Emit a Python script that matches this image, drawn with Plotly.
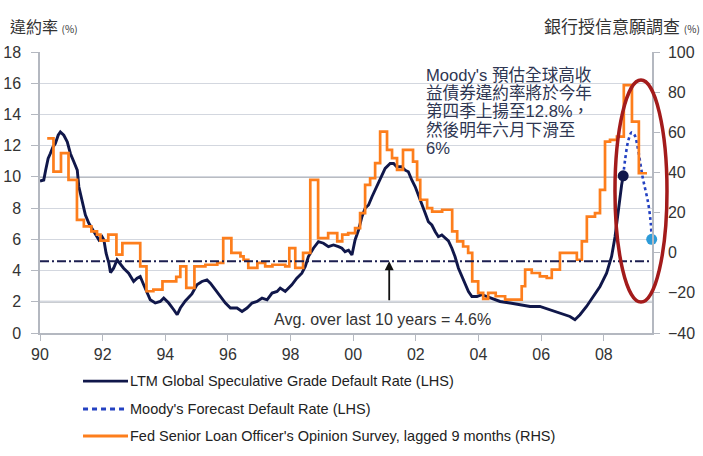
import plotly.graph_objects as go

# ---------------- data ----------------
# LTM Global Speculative Grade Default Rate (LHS, %)
navy_x = [1990.0, 1990.12, 1990.18, 1990.26, 1990.33, 1990.41, 1990.49, 1990.58, 1990.65, 1990.76,
          1990.87, 1990.97, 1991.08, 1991.19, 1991.24, 1991.32, 1991.40, 1991.45, 1991.56, 1991.66,
          1991.77, 1991.88, 1991.98, 1992.04, 1992.11, 1992.20, 1992.25, 1992.35, 1992.46, 1992.57,
          1992.67, 1992.83, 1992.99, 1993.10, 1993.20, 1993.31, 1993.42, 1993.52, 1993.68, 1993.84,
          1993.95, 1994.11, 1994.27, 1994.38, 1994.48, 1994.64, 1994.85, 1995.01, 1995.17, 1995.33,
          1995.44, 1995.60, 1995.76, 1995.92, 1996.08, 1996.29, 1996.45, 1996.61, 1996.77, 1996.93,
          1997.09, 1997.25, 1997.41, 1997.57, 1997.67, 1997.83, 1998.04, 1998.20, 1998.36, 1998.47,
          1998.57, 1998.73, 1998.89, 1999.05, 1999.21, 1999.37, 1999.53, 1999.64, 1999.74, 1999.85,
          1999.96, 2000.06, 2000.17, 2000.28, 2000.38, 2000.49, 2000.60, 2000.70, 2000.86, 2001.02,
          2001.18, 2001.29, 2001.39, 2001.55, 2001.66, 2001.76, 2001.87, 2001.98, 2002.08, 2002.19,
          2002.30, 2002.40, 2002.51, 2002.62, 2002.72, 2002.83, 2002.93, 2003.04, 2003.15, 2003.25,
          2003.36, 2003.47, 2003.57, 2003.68, 2003.79, 2003.95, 2004.11, 2004.26, 2004.42, 2004.69,
          2005.01, 2005.33, 2005.65, 2005.96, 2006.28, 2006.60, 2006.92, 2007.08, 2007.24, 2007.45,
          2007.67, 2007.88, 2008.09, 2008.25, 2008.36, 2008.43, 2008.49, 2008.57, 2008.62]
navy_y = [9.73, 9.80, 10.43, 11.18, 11.50, 11.90, 12.14, 12.67, 12.88, 12.67,
          12.25, 11.50, 10.97, 10.43, 9.37, 8.73, 8.09, 7.56, 7.03, 6.71,
          6.28, 5.96, 6.17, 5.96, 5.11, 4.47, 3.87, 4.15, 4.68, 4.36,
          4.15, 3.83, 3.30, 3.51, 3.62, 3.09, 2.56, 2.13, 1.92, 2.02,
          2.24, 1.92, 1.49, 1.17, 1.60, 2.05, 2.50, 3.09, 3.30, 3.40,
          3.19, 2.77, 2.30, 1.92, 1.60, 1.60, 1.38, 1.60, 1.92, 2.02,
          2.24, 2.13, 2.56, 2.66, 2.88, 2.66, 3.09, 3.51, 3.83, 4.26,
          4.90, 5.43, 5.85, 5.75, 5.53, 5.64, 5.53, 5.43, 5.21, 5.30,
          5.00, 5.96, 6.60, 7.45, 7.99, 8.20, 8.73, 9.16, 9.90, 10.54,
          10.86, 10.86, 10.65, 10.65, 10.43, 10.33, 9.80, 9.37, 8.84, 8.30,
          7.67, 7.13, 6.92, 6.49, 6.17, 6.28, 6.07, 5.90, 5.43, 4.90,
          4.15, 3.62, 3.09, 2.66, 2.34, 2.34, 2.45, 2.34, 2.24, 2.02,
          1.92, 1.81, 1.70, 1.70, 1.49, 1.28, 1.06, 0.85, 1.17, 1.70,
          2.34, 2.98, 3.83, 4.90, 6.17, 7.24, 8.52, 9.48, 10.07]

# Moody's Forecast Default Rate (LHS, %)
fcst_x = [2008.62, 2008.68, 2008.78, 2008.89, 2008.98, 2009.08, 2009.24, 2009.42, 2009.50, 2009.53]
fcst_y = [10.07, 11.07, 12.30, 12.85, 12.70, 11.92, 10.00, 8.30, 7.03, 6.00]

# Fed Senior Loan Officer's Opinion Survey, lagged 9 months (RHS, %) - step values
fed_x = [1990.23, 1990.43, 1990.67, 1990.91, 1991.18, 1991.40, 1991.64, 1991.82, 1991.93, 1992.18,
         1992.44, 1992.63, 1993.20, 1993.40, 1993.62, 1993.91, 1994.35, 1994.48, 1994.67, 1994.93,
         1995.28, 1995.66, 1995.85, 1996.11, 1996.40, 1996.50, 1996.65, 1996.94, 1997.19, 1997.42,
         1997.83, 1997.96, 1998.15, 1998.40, 1998.63, 1998.88, 1999.20, 1999.49, 1999.65, 1999.84,
         2000.06, 2000.22, 2000.38, 2000.54, 2000.70, 2000.86, 2001.08, 2001.24, 2001.40, 2001.59,
         2001.91, 2002.04, 2002.14, 2002.36, 2002.52, 2002.84, 2003.16, 2003.32, 2003.51, 2003.67,
         2003.80, 2003.99, 2004.15, 2004.31, 2004.55, 2004.85, 2005.38, 2005.49, 2005.70, 2005.96,
         2006.18, 2006.34, 2006.60, 2007.14, 2007.30, 2007.46, 2007.72, 2007.88, 2008.04, 2008.20,
         2008.42, 2008.64, 2008.90, 2009.12, 2009.38]
fed_y = [57.0, 40.4, 49.6, 36.3, 16.4, 13.1, 10.6, 9.0, 6.0, 9.0,
         -1.0, 4.8, -6.8, -19.2, -18.4, -14.3, -12.0, -6.8, -17.5, -6.8,
         -6.0, -5.1, 7.3, -0.1, -1.8, -3.5, -7.6, -5.1, -6.8, -6.0,
         -6.8, 2.3, -7.6, -0.1, 36.3, 7.3, 9.8, 5.6, 9.0, 9.8,
         12.3, 19.7, 33.8, 37.1, 44.6, 60.3, 51.2, 47.1, 41.3, 51.2,
         45.4, 36.3, 26.4, 22.2, 20.5, 21.4, 10.6, 5.6, 3.1, -0.1,
         -14.3, -20.0, -23.0, -20.0, -21.7, -23.4, -16.7, -8.4, -10.1, -11.8,
         -12.6, -8.4, -0.1, -3.5, 5.6, 18.0, 19.7, 31.3, 55.3, 56.2,
         57.8, 83.5, 65.3, 39.6, 39.6]

AVG_10Y = 4.6
ARROW_X = 2001.15
ARROW_BASE = 2.0
DARK_GRID_VALUES = [10, 2]

tick_years = [1990, 1992, 1994, 1996, 1998, 2000, 2002, 2004, 2006, 2008]
tick_text = ["90", "92", "94", "96", "98", "00", "02", "04", "06", "08"]

note_lines = ["Moody's 預估全球高收", "益債券違約率將於今年", "第四季上揚至12.8%，",
              "然後明年六月下滑至", "6%"]

series_names = ["LTM Global Speculative Grade Default Rate (LHS)",
                "Moody's Forecast Default Rate (LHS)",
                "Fed Senior Loan Officer's Opinion Survey, lagged 9 months (RHS)"]

NAVY = "#10174a"
ORANGE = "#fd7e1c"
FCST = "#2442c2"
LIGHTBLUE = "#2d9bd8"
GRID = "#d3d7df"
AXIS = "#b4b8c0"
TXT = "#333333"
FONT = "Liberation Sans, Arial, sans-serif"
CJK = "Noto Sans CJK TC, sans-serif"

series_styles = [dict(color=NAVY, width=2.8),
                 dict(color=FCST, width=3, dash="5px,4px"),
                 dict(color=ORANGE, width=2.8)]

fig = go.Figure()

fig.add_trace(go.Scatter(
    x=navy_x, y=navy_y, mode="lines", name=series_names[0],
    line=dict(color=NAVY, width=2.9), showlegend=False))
fig.add_trace(go.Scatter(
    x=fcst_x, y=fcst_y, mode="lines", name=series_names[1],
    line=dict(color=FCST, width=2.6, dash="3px,3px", shape="spline"), showlegend=False))
fig.add_trace(go.Scatter(
    x=fed_x, y=fed_y, mode="lines", yaxis="y2", name=series_names[2],
    line=dict(color=ORANGE, width=2.7, shape="hv"), showlegend=False))
# end-point markers
fig.add_trace(go.Scatter(x=[navy_x[-1]], y=[navy_y[-1]], mode="markers", showlegend=False,
                         marker=dict(color=NAVY, size=11), cliponaxis=False))
fig.add_trace(go.Scatter(x=[fcst_x[-1]], y=[fcst_y[-1]], mode="markers", showlegend=False,
                         marker=dict(color=LIGHTBLUE, size=11), cliponaxis=False))

# slightly darker grid lines seen in the reference
for gv in DARK_GRID_VALUES:
    fig.add_shape(type="line", xref="paper", x0=0, x1=1, yref="y", y0=gv, y1=gv,
                  line=dict(color="#b9bcc2", width=2), layer="below")

# average line
fig.add_shape(type="line", xref="paper", x0=0, x1=1, yref="y", y0=AVG_10Y, y1=AVG_10Y,
              line=dict(color="#1c1f50", width=2, dash="9px,3px,2px,3px"))

# ellipse
fig.add_shape(type="circle", xref="paper", yref="paper", x0=0.9395, x1=1.0245, y0=0.110, y1=0.900,
              line=dict(color="#a31b1b", width=3.5), layer="above")

# arrow + text
fig.add_annotation(x=ARROW_X, y=AVG_10Y, ax=ARROW_X, ay=ARROW_BASE, xref="x", yref="y",
                   axref="x", ayref="y", text="", showarrow=True, arrowhead=2, arrowsize=1,
                   arrowwidth=1.8, arrowcolor="#111111")
fig.add_annotation(x=2000.94, y=0.85, xref="x", yref="y", text="Avg. over last 10 years = 4.6%",
                   showarrow=False, font=dict(family=FONT, size=16, color=TXT))

# note block, one annotation per line (tight line spacing)
for i, line in enumerate(note_lines):
    fig.add_annotation(
        x=0.628, y=0.917 - i * 0.065, xref="paper", yref="paper", xanchor="left", yanchor="middle",
        align="left", showarrow=False, text=line,
        font=dict(family="Liberation Sans, Noto Sans CJK TC, sans-serif", size=16.6, color="#2e3652"))

# axis titles
fig.add_annotation(x=-0.052, y=1.093, xref="paper", yref="paper", xanchor="left", yanchor="middle",
                   showarrow=False, text="違約率 <span style='font-size:10px'>(%)</span>",
                   font=dict(family=CJK, size=16, color=TXT))
fig.add_annotation(x=1.082, y=1.093, xref="paper", yref="paper", xanchor="right", yanchor="middle",
                   showarrow=False, text="銀行授信意願調查 <span style='font-size:10px'>(%)</span>",
                   font=dict(family=CJK, size=17, color=TXT))

# legend (drawn below the plot)
legend_y = [-0.171, -0.2705, -0.3665]
for name, style, ly in zip(series_names, series_styles, legend_y):
    fig.add_shape(type="line", xref="paper", yref="paper", x0=0.0703, x1=0.1438, y0=ly, y1=ly,
                  line=style)
    fig.add_annotation(x=0.1440, y=ly, xref="paper", yref="paper", xanchor="left", yanchor="middle",
                       showarrow=False, text=name,
                       font=dict(family=FONT, size=14.5, color="#222222"))

fig.update_layout(
    width=703, height=456,
    margin=dict(l=40, r=51, t=52, b=123),
    paper_bgcolor="white", plot_bgcolor="white",
    font=dict(family=FONT, size=16, color=TXT),
    showlegend=False,
    xaxis=dict(range=[1990, 2009.54], tickvals=tick_years, ticktext=tick_text, automargin=False,
               showgrid=False, zeroline=False, showline=True, linecolor=AXIS, linewidth=1.5,
               ticks="outside", ticklen=6, tickcolor=AXIS, tickfont=dict(size=16)),
    yaxis=dict(range=[0, 18], dtick=2, showgrid=True, gridcolor=GRID, gridwidth=1.2,
               zeroline=False, showline=True, linecolor=AXIS, linewidth=1.5, automargin=False,
               ticks="outside", ticklen=7, tickcolor=AXIS, tickfont=dict(size=16),
               ticklabelstandoff=7),
    yaxis2=dict(range=[-40, 100], dtick=20, overlaying="y", side="right", showgrid=False,
                zeroline=False, showline=True, linecolor=AXIS, linewidth=1.5, automargin=False,
                ticks="outside", ticklen=6, tickcolor=AXIS, tickfont=dict(size=16),
                ticklabelstandoff=5),
)

fig.write_html("out.html")
